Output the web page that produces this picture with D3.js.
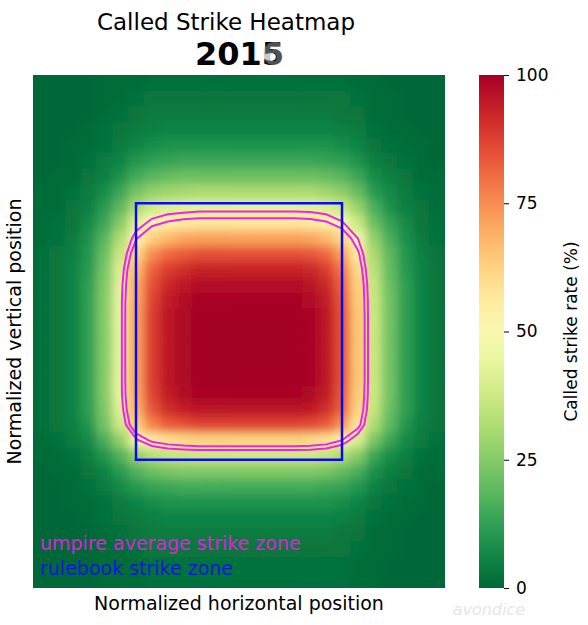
<!DOCTYPE html>
<html>
<head>
<meta charset="utf-8">
<script src="https://cdn.jsdelivr.net/npm/d3@7"></script>
<style>
  body { margin: 0; background: #fff; }
  svg { display: block; font-family: "DejaVu Sans", sans-serif; }
</style>
</head>
<body>
<div id="chart"></div>
<script>
// called strike rate (%) per cell, top row first
const strikeRate = [
  [0,0,0,0,1,1,1,2,2,2,2,2,2,2,2,2,2,2,2,2,1,1,0,0,0,0],
  [0,0,0,0,1,1,2,3,3,3,3,3,3,3,3,3,3,3,3,3,2,1,1,0,0,0],
  [0,0,0,0,1,2,3,4,4,4,4,4,4,4,4,4,4,4,4,3,3,1,1,0,0,0],
  [0,0,0,1,2,3,4,5,6,6,6,6,6,6,6,6,6,6,6,5,4,2,1,1,0,0],
  [0,0,1,1,2,4,6,8,9,9,9,9,9,9,9,9,9,9,9,8,6,3,2,1,1,0],
  [0,0,1,2,4,6,10,12,13,14,14,14,14,14,14,14,14,14,13,12,9,5,3,2,1,0],
  [0,1,1,3,5,9,15,18,20,21,21,21,21,21,21,21,21,21,20,18,14,8,5,3,1,1],
  [1,1,2,4,8,14,22,27,29,30,31,31,31,31,31,31,31,31,29,26,20,11,7,4,2,1],
  [1,1,3,5,11,19,31,38,41,42,43,43,43,43,43,43,43,43,41,37,28,16,9,5,3,1],
  [1,2,3,7,14,25,41,50,54,56,57,57,57,57,57,57,57,56,54,48,37,21,13,7,3,2],
  [1,2,4,9,18,32,52,63,68,71,72,72,72,72,72,72,72,71,68,61,47,27,16,9,4,2],
  [2,3,5,10,21,37,61,75,81,83,85,85,85,85,85,85,85,84,81,72,55,31,19,10,5,3],
  [2,3,6,11,23,41,67,82,88,91,93,93,93,93,93,93,93,92,88,79,60,34,20,11,6,3],
  [2,3,6,12,24,43,70,85,92,95,97,97,97,97,97,97,97,96,92,82,63,36,21,12,6,3],
  [2,3,6,12,25,44,71,87,94,97,99,99,99,99,99,99,99,98,94,84,64,37,22,12,6,3],
  [2,3,6,12,25,44,72,88,95,98,100,100,100,100,100,100,100,99,95,85,65,37,22,12,6,3],
  [2,3,6,12,25,44,72,88,95,98,100,100,100,100,100,100,100,99,95,85,65,37,22,12,6,3],
  [2,3,6,12,25,44,72,88,95,98,100,100,100,100,100,100,100,99,95,85,65,37,22,12,6,3],
  [2,3,6,12,25,44,72,88,95,98,100,100,100,100,100,100,100,99,95,85,65,37,22,12,6,3],
  [2,3,6,12,25,44,72,88,95,98,100,100,100,100,100,100,100,99,95,85,65,37,22,12,6,3],
  [2,3,6,12,25,44,71,87,94,97,99,99,99,99,99,99,99,98,94,84,64,37,22,12,6,3],
  [2,3,6,12,24,42,69,84,91,94,96,96,96,96,96,96,96,95,91,82,62,36,21,12,6,3],
  [2,3,5,10,22,38,63,77,83,85,87,87,87,87,87,87,87,86,83,74,57,32,19,10,5,3],
  [1,2,4,7,16,27,45,55,59,61,62,62,62,62,62,62,62,61,59,53,40,23,14,7,4,2],
  [1,1,2,5,10,17,27,33,36,37,38,38,38,38,38,38,38,38,36,32,25,14,8,5,2,1],
  [0,1,1,3,6,11,17,21,23,24,24,24,24,24,24,24,24,24,23,20,16,9,5,3,1,1],
  [0,0,1,2,4,7,11,13,14,15,15,15,15,15,15,15,15,15,14,13,10,6,3,2,1,0],
  [0,0,1,1,2,4,6,8,9,9,9,9,9,9,9,9,9,9,9,8,6,3,2,1,1,0],
  [0,0,0,1,2,3,4,5,6,6,6,6,6,6,6,6,6,6,6,5,4,2,1,1,0,0],
  [0,0,0,0,1,2,3,4,4,4,4,4,4,4,4,4,4,4,4,3,3,1,1,0,0,0],
  [0,0,0,0,1,1,2,3,3,3,3,3,3,3,3,3,3,3,3,3,2,1,1,0,0,0],
  [0,0,0,0,1,1,1,2,2,2,2,2,2,2,2,2,2,2,2,2,1,1,0,0,0,0],
  [0,0,0,0,1,1,1,2,2,2,2,2,2,2,2,2,2,2,2,2,1,1,0,0,0,0]
];

// rulebook zone in normalized units (plot spans -1..1 both ways)
const zoneX = [-0.5, 0.5];
const zoneY = [-0.5, 0.5];

// levels traced for the umpire average zone
const umpireLevels = [47, 53];

const colorTicks = [0, 25, 50, 75, 100];

const width = 588, height = 625;
const plot = { left: 33, right: 445, top: 75, bottom: 588 };
const bar = { left: 479, right: 504 };

const nRows = strikeRate.length;
const nCols = strikeRate[0].length;

const svg = d3.select("#chart").append("svg")
    .attr("width", width)
    .attr("height", height);

const color = d3.scaleSequential(t => d3.interpolateRdYlGn(1 - t)).domain([0, 100]);

const xBand = d3.scaleBand().domain(d3.range(nCols)).range([plot.left, plot.right]);
const yBand = d3.scaleBand().domain(d3.range(nRows)).range([plot.top, plot.bottom]);

const xPos = d3.scaleLinear().domain([-1, 1]).range([plot.left, plot.right]);
const yPos = d3.scaleLinear().domain([-1, 1]).range([plot.bottom, plot.top]);

const defs = svg.append("defs");
defs.append("clipPath").attr("id", "plot-clip")
  .append("rect")
    .attr("x", plot.left).attr("y", plot.top)
    .attr("width", plot.right - plot.left).attr("height", plot.bottom - plot.top);
defs.append("filter").attr("id", "soften")
    .attr("x", "-5%").attr("y", "-5%").attr("width", "110%").attr("height", "110%")
  .append("feGaussianBlur").attr("stdDeviation", 5);

// heatmap
const heat = svg.append("g").attr("clip-path", "url(#plot-clip)");
heat.append("rect")
    .attr("x", plot.left).attr("y", plot.top)
    .attr("width", plot.right - plot.left).attr("height", plot.bottom - plot.top)
    .attr("fill", color(0));

const cells = [];
strikeRate.forEach((row, r) => row.forEach((v, c) => cells.push({ r, c, v })));

heat.append("g").attr("filter", "url(#soften)")
  .selectAll("rect")
  .data(cells)
  .join("rect")
    .attr("x", d => xBand(d.c))
    .attr("y", d => yBand(d.r))
    .attr("width", xBand.bandwidth() + 0.5)
    .attr("height", yBand.bandwidth() + 0.5)
    .attr("fill", d => color(d.v));

// umpire average zone contours
const gridX = d3.scaleLinear().domain([0, nCols]).range([plot.left, plot.right]);
const gridY = d3.scaleLinear().domain([0, nRows]).range([plot.top, plot.bottom]);
const gridPath = d3.geoPath(d3.geoTransform({
  point(x, y) { this.stream.point(gridX(x), gridY(y)); }
}));

const contours = d3.contours()
    .size([nCols, nRows])
    .thresholds(umpireLevels)(strikeRate.flat());

svg.append("g")
  .selectAll("path")
  .data(contours)
  .join("path")
    .attr("d", gridPath)
    .attr("fill", "none")
    .attr("stroke", "#ee22ee")
    .attr("stroke-width", 2);

// rulebook zone
svg.append("rect")
    .attr("x", xPos(zoneX[0]))
    .attr("y", yPos(zoneY[1]))
    .attr("width", xPos(zoneX[1]) - xPos(zoneX[0]))
    .attr("height", yPos(zoneY[0]) - yPos(zoneY[1]))
    .attr("fill", "none")
    .attr("stroke", "#0a0aee")
    .attr("stroke-width", 2.5);

// legend text inside the plot
svg.append("text")
    .attr("x", 40).attr("y", 550)
    .attr("fill", "#dd22dd")
    .style("font-size", "19px")
    .text("umpire average strike zone");
svg.append("text")
    .attr("x", 40).attr("y", 575)
    .attr("fill", "#1515dd")
    .style("font-size", "19px")
    .text("rulebook strike zone");

// titles
svg.append("text")
    .attr("x", 226).attr("y", 30)
    .attr("text-anchor", "middle")
    .style("font-size", "23px")
    .text("Called Strike Heatmap");
const year = svg.append("text")
    .attr("x", 195).attr("y", 65)
    .style("font-size", "32px")
    .style("font-weight", "bold")
    .text("2015");
// ghost of the next frame's digit, as in the source image
year.append("tspan")
    .attr("dx", "-0.696em")
    .attr("fill", "#999")
    .attr("fill-opacity", 0.55)
    .text("6");

// axis labels
svg.append("text")
    .attr("x", (plot.left + plot.right) / 2).attr("y", 610)
    .attr("text-anchor", "middle")
    .style("font-size", "19px")
    .text("Normalized horizontal position");
svg.append("text")
    .attr("transform", `translate(21, ${(plot.top + plot.bottom) / 2}) rotate(-90)`)
    .attr("text-anchor", "middle")
    .style("font-size", "19px")
    .text("Normalized vertical position");

// colorbar
const grad = defs.append("linearGradient").attr("id", "cbar")
    .attr("x1", 0).attr("y1", 1).attr("x2", 0).attr("y2", 0);
d3.range(0, 101, 5).forEach(v => {
  grad.append("stop").attr("offset", `${v}%`).attr("stop-color", color(v));
});

const cScale = d3.scaleLinear().domain([0, 100]).range([plot.bottom, plot.top]);

svg.append("rect")
    .attr("x", bar.left).attr("y", plot.top)
    .attr("width", bar.right - bar.left).attr("height", plot.bottom - plot.top)
    .attr("fill", "url(#cbar)");

const cAxis = svg.append("g")
    .attr("transform", `translate(${bar.right},0)`)
    .call(d3.axisRight(cScale).tickValues(colorTicks).tickSize(5).tickPadding(7));
cAxis.select(".domain").remove();
cAxis.selectAll("text")
    .style("font-size", "17px")
    .style("font-family", "DejaVu Sans, sans-serif")
    .attr("fill", "#000");

svg.append("text")
    .attr("transform", `translate(577, ${(plot.top + plot.bottom) / 2}) rotate(-90)`)
    .attr("text-anchor", "middle")
    .style("font-size", "17px")
    .text("Called strike rate (%)");

// watermark
svg.append("text")
    .attr("x", 489).attr("y", 615)
    .attr("text-anchor", "middle")
    .attr("fill", "#e6e6e6")
    .style("font-size", "16px")
    .style("font-style", "italic")
    .text("avondice");
</script>
</body>
</html>
